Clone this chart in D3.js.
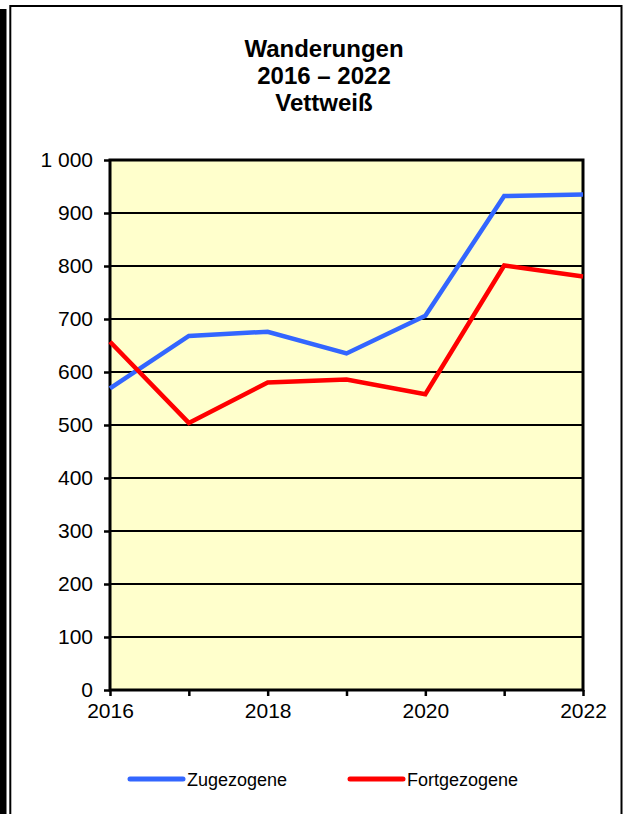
<!DOCTYPE html>
<html><head><meta charset="utf-8">
<script src="https://cdn.jsdelivr.net/npm/d3@7"></script>
<style>html,body{margin:0;padding:0;background:#fff;}svg{display:block;}</style>
</head><body>
<script>
const years = [2016, 2017, 2018, 2019, 2020, 2021, 2022];
const zugezogene = [569, 668, 676, 635, 706, 932, 935];
const fortgezogene = [657, 504, 580, 586, 558, 801, 780];
const yTicks = [0, 100, 200, 300, 400, 500, 600, 700, 800, 900, 1000];
const xLabelYears = [2016, 2018, 2020, 2022];
const titleLines = ["Wanderungen", "2016 – 2022", "Vettweiß"];
const seriesNames = ["Zugezogene", "Fortgezogene"];
const seriesColors = ["#3366FF", "#FF0000"];

const W = 623, H = 814;
const svg = d3.select("body").append("svg").attr("width", W).attr("height", H);
const font = "'Liberation Sans', Arial, sans-serif";

// frame
svg.append("rect").attr("x", 0).attr("y", 9).attr("width", 6.5).attr("height", H).attr("fill", "#000");
svg.append("rect").attr("x", 10.3).attr("y", 6).attr("width", 611.2).attr("height", H + 20)
  .attr("fill", "#fff").attr("stroke", "#000").attr("stroke-width", 2);

// title
svg.append("g").selectAll("text").data(titleLines).join("text")
  .attr("x", 324).attr("y", (d, i) => 56.5 + i * 27)
  .attr("text-anchor", "middle").attr("font-family", font).attr("font-weight", "bold")
  .attr("font-size", 24).text(d => d);

const x = d3.scaleLinear().domain([2016, 2022]).range([110, 583]);
const y = d3.scaleLinear().domain([0, 1000]).range([690, 160]);

// plot area
svg.append("rect").attr("x", 110).attr("y", 160).attr("width", 473).attr("height", 530).attr("fill", "#FFFFCC");

// gridlines
svg.append("g").selectAll("line").data(yTicks).join("line")
  .attr("x1", 110).attr("x2", 583).attr("y1", d => y(d)).attr("y2", d => y(d))
  .attr("stroke", "#000").attr("stroke-width", 2);

// y axis
const yAxis = svg.append("g").attr("transform", "translate(110,0)")
  .call(d3.axisLeft(y).tickValues(yTicks).tickSize(6).tickPadding(11)
    .tickFormat(d => d3.format(",")(d).replace(/,/g, " ")));
yAxis.select(".domain").remove();
yAxis.selectAll("line").attr("stroke", "#000").attr("stroke-width", 2.5);
yAxis.selectAll("text").attr("font-family", font).attr("font-size", 21).attr("fill", "#000");

// x axis
const xAxis = svg.append("g").attr("transform", "translate(0,690)")
  .call(d3.axisBottom(x).tickValues(years).tickSize(6).tickPadding(7)
    .tickFormat(d => xLabelYears.includes(d) ? String(d) : ""));
xAxis.select(".domain").remove();
xAxis.selectAll("line").attr("stroke", "#000").attr("stroke-width", 2.5);
xAxis.selectAll("text").attr("font-family", font).attr("font-size", 21).attr("fill", "#000");

// plot border
svg.append("rect").attr("x", 110).attr("y", 160).attr("width", 473).attr("height", 530)
  .attr("fill", "none").attr("stroke", "#000").attr("stroke-width", 3);

// lines
const line = d3.line().x((d, i) => x(years[i])).y(d => y(d));
[zugezogene, fortgezogene].forEach((s, k) => {
  svg.append("path").datum(s).attr("d", line).attr("fill", "none")
    .attr("stroke", seriesColors[k]).attr("stroke-width", 4.5).attr("stroke-linejoin", "miter");
});

// legend
const legX = [130, 350];
seriesNames.forEach((n, k) => {
  const g = svg.append("g");
  g.append("line").attr("x1", legX[k]).attr("x2", legX[k] + 53).attr("y1", 779).attr("y2", 779)
    .attr("stroke", seriesColors[k]).attr("stroke-width", 5).attr("stroke-linecap", "round");
  g.append("text").attr("x", legX[k] + 57).attr("y", 785.5).attr("font-family", font)
    .attr("font-size", 18).text(n);
});
</script>
</body></html>
